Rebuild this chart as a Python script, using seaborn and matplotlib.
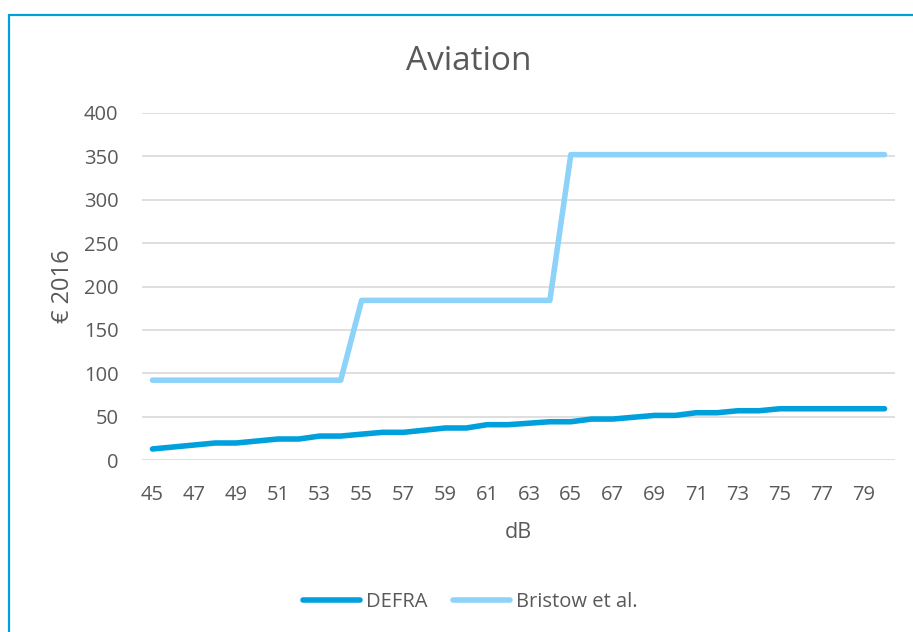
import matplotlib
matplotlib.use("Agg")
import matplotlib.pyplot as plt
from matplotlib.lines import Line2D
import seaborn as sns
import pandas as pd
import numpy as np

# ---- data ----
db_levels = list(range(45, 81))
defra = [12.7, 15.0, 17.3, 19.6, 19.6, 21.9, 24.2, 24.2, 27.6, 27.6,
         29.8, 31.9, 31.9, 34.4, 36.9, 36.9, 40.7, 40.7, 42.4, 44.1,
         44.1, 47.2, 47.2, 49.3, 51.4, 51.4, 54.5, 54.5, 56.8, 56.8,
         59.1, 59.1, 59.1, 59.1, 59.1, 59.1]
bristow = [92] * 10 + [184] * 10 + [352] * 16
series_names = ["DEFRA", "Bristow et al."]
x_tick_labels = list(range(45, 80, 2))
y_ticks = [0, 50, 100, 150, 200, 250, 300, 350, 400]
title = "Aviation"
x_label = "dB"
y_label = "€ 2016"

df = pd.DataFrame({
    "dB": db_levels * 2,
    "value": defra + bristow,
    "series": [series_names[0]] * len(db_levels) + [series_names[1]] * len(db_levels),
})

sns.set_theme(style="white")
plt.rcParams["font.family"] = ["Open Sans", "DejaVu Sans"]

text_color = "#595959"
colors = {"DEFRA": "#00A0DC", "Bristow et al.": "#8DD3F9"}

fig = plt.figure(figsize=(9.13, 6.32), dpi=100)
ax = fig.add_axes([142 / 913, 1 - 460 / 632, (895 - 142) / 913, (460 - 113) / 632])

sns.lineplot(data=df, x="dB", y="value", hue="series", palette=colors,
             hue_order=series_names, linewidth=4, ax=ax, legend=False)
for ln in ax.get_lines():
    ln.set_solid_capstyle("round")
    ln.set_solid_joinstyle("round")

ax.set_xlim(44.5, 80.5)
ax.set_ylim(0, 400)
ax.set_xticks(x_tick_labels)
ax.set_xticklabels([str(v) for v in x_tick_labels])
ax.set_yticks(y_ticks)
ax.yaxis.grid(True, color="#D9D9D9", linewidth=1.2)
ax.xaxis.grid(False)
ax.set_axisbelow(True)
for s in ax.spines.values():
    s.set_visible(False)
ax.tick_params(axis="both", length=0, labelsize=14.5, labelcolor=text_color)
ax.tick_params(axis="y", pad=17)
ax.tick_params(axis="x", pad=18)

ax.set_xlabel(x_label, fontsize=15.5, color=text_color, labelpad=12)
ax.set_ylabel(y_label, fontsize=17, color=text_color, labelpad=6)

fig.text(0.513, 1 - 62 / 632, title, ha="center", va="center",
         fontsize=24, color=text_color)

handles = [Line2D([0], [0], color=colors[n], linewidth=4, solid_capstyle="round")
           for n in series_names]
fig.legend(handles, series_names, loc="center", bbox_to_anchor=(0.515, 1 - 602 / 632),
           ncol=2, frameon=False, fontsize=14.5, handlelength=2.8,
           handletextpad=0.3, columnspacing=1.3, labelcolor=text_color)

# chart frame (top and left edges visible)
border = "#00A0DC"
fig.add_artist(Line2D([9 / 913, 1.0], [1 - 15 / 632, 1 - 15 / 632],
                      transform=fig.transFigure, color=border, linewidth=1.6))
fig.add_artist(Line2D([9 / 913, 9 / 913], [0.0, 1 - 15 / 632],
                      transform=fig.transFigure, color=border, linewidth=1.6))

fig.savefig("out.png", dpi=100)
